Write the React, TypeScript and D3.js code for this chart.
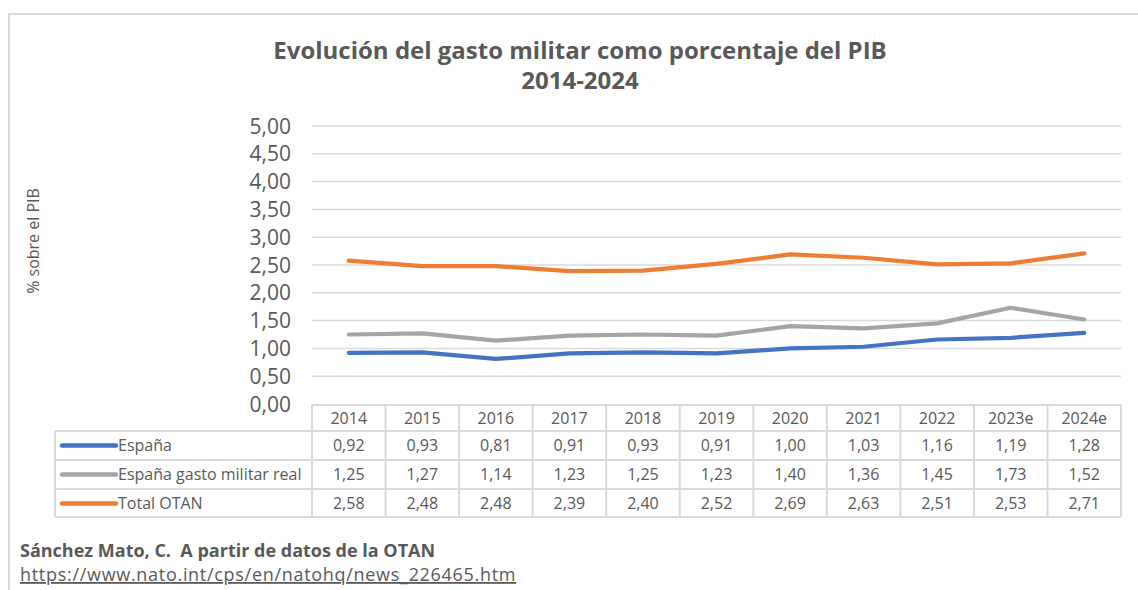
import React from "react";
import * as d3 from "d3";

const years = ["2014", "2015", "2016", "2017", "2018", "2019", "2020", "2021", "2022", "2023e", "2024e"];
const espana = [0.92, 0.93, 0.81, 0.91, 0.93, 0.91, 1.0, 1.03, 1.16, 1.19, 1.28];
const espanaReal = [1.25, 1.27, 1.14, 1.23, 1.25, 1.23, 1.4, 1.36, 1.45, 1.73, 1.52];
const totalOtan = [2.58, 2.48, 2.48, 2.39, 2.4, 2.52, 2.69, 2.63, 2.51, 2.53, 2.71];
const seriesNames = ["España", "España gasto militar real", "Total OTAN"];
const seriesColors = ["#4472C4", "#A5A5A5", "#ED7D31"];
const yTicks = [0, 0.5, 1, 1.5, 2, 2.5, 3, 3.5, 4, 4.5, 5];

const FONT = "'Open Sans', sans-serif";
const TXT = "#595959";
const GRID = "#D9D9D9";

export default function App() {
  const W = 1138, H = 590;
  const left = 312, right = 1121;
  const y0 = 404, y5 = 126;
  const x = d3.scaleBand<string>().domain(years).range([left, right]).padding(0);
  const y = d3.scaleLinear().domain([0, 5]).range([y0, y5]);
  const fmt = (v: number) => v.toFixed(2).replace(".", ",");
  const series = [espana, espanaReal, totalOtan];
  const line = d3
    .line<number>()
    .x((_, i) => (x(years[i]) as number) + x.bandwidth() / 2)
    .y((d) => y(d))
    .curve(d3.curveLinear);

  const headerTop = 405, headerBot = 431;
  const rowH = 29;
  const labelLeft = 55;
  const rowTops = [431, 460, 489];
  const tableBot = 517;

  return (
    <svg width={W} height={H} style={{ position: "absolute", left: 0, top: 0 }}>
      <rect x={0} y={0} width={W} height={H} fill="#fff" />
      <rect x={9} y={14} width={W + 20} height={H + 20} fill="none" stroke={GRID} strokeWidth={2} />
      <text x={580} y={59} textAnchor="middle" fontFamily={FONT} fontWeight="bold" fontSize={24} fill={TXT}>
        Evolución del gasto militar como porcentaje del PIB
      </text>
      <text x={580} y={89} textAnchor="middle" fontFamily={FONT} fontWeight="bold" fontSize={24} fill={TXT}>
        2014-2024
      </text>
      <text
        transform={`translate(39,241) rotate(-90)`}
        textAnchor="middle"
        fontFamily={FONT}
        fontSize={16}
        fill={TXT}
      >
        % sobre el PIB
      </text>
      {yTicks.map((t) => (
        <g key={t}>
          {t > 0 && <line x1={left} x2={right} y1={y(t)} y2={y(t)} stroke={GRID} strokeWidth={1.5} />}
          <text x={291} y={y(t) + 7.5} textAnchor="end" fontFamily={FONT} fontSize={21} fill={TXT}>
            {fmt(t)}
          </text>
        </g>
      ))}
      {series.map((s, i) => (
        <path key={i} d={line(s) as string} fill="none" stroke={seriesColors[i]} strokeWidth={4.2} strokeLinecap="round" strokeLinejoin="round" />
      ))}
      <g stroke={GRID} strokeWidth={2} fill="none">
        <line x1={left} x2={right} y1={headerTop} y2={headerTop} />
        {[headerBot, ...rowTops.slice(1), tableBot].map((yy, i) => (
          <line key={i} x1={labelLeft} x2={right} y1={yy} y2={yy} />
        ))}
        <line x1={labelLeft} x2={labelLeft} y1={headerBot} y2={tableBot} />
        {years.map((yr) => (
          <line key={yr} x1={x(yr) as number} x2={x(yr) as number} y1={headerTop} y2={tableBot} />
        ))}
        <line x1={right} x2={right} y1={headerTop} y2={tableBot} />
      </g>
      {years.map((yr) => (
        <text key={yr} x={(x(yr) as number) + x.bandwidth() / 2} y={headerTop + 19} textAnchor="middle" fontFamily={FONT} fontSize={16} fill={TXT}>
          {yr}
        </text>
      ))}
      {series.map((s, i) => (
        <g key={i}>
          <line x1={62} x2={116} y1={rowTops[i] + rowH / 2} y2={rowTops[i] + rowH / 2} stroke={seriesColors[i]} strokeWidth={4.5} strokeLinecap="round" />
          <text x={118} y={rowTops[i] + 20} fontFamily={FONT} fontSize={16} fill={TXT}>
            {seriesNames[i]}
          </text>
          {s.map((v, j) => (
            <text key={j} x={(x(years[j]) as number) + x.bandwidth() / 2} y={rowTops[i] + 20} textAnchor="middle" fontFamily={FONT} fontSize={16} fill={TXT}>
              {fmt(v)}
            </text>
          ))}
        </g>
      ))}
      <text x={20} y={557} fontFamily={FONT} fontWeight="bold" fontSize={18} fill={TXT} style={{ whiteSpace: "pre" }}>
        {"Sánchez Mato, C.  A partir de datos de la OTAN"}
      </text>
      <text x={20} y={581} fontFamily={FONT} fontSize={18} fill={TXT} textDecoration="underline" letterSpacing={0.7}>
        https://www.nato.int/cps/en/natohq/news_226465.htm
      </text>
    </svg>
  );
}
